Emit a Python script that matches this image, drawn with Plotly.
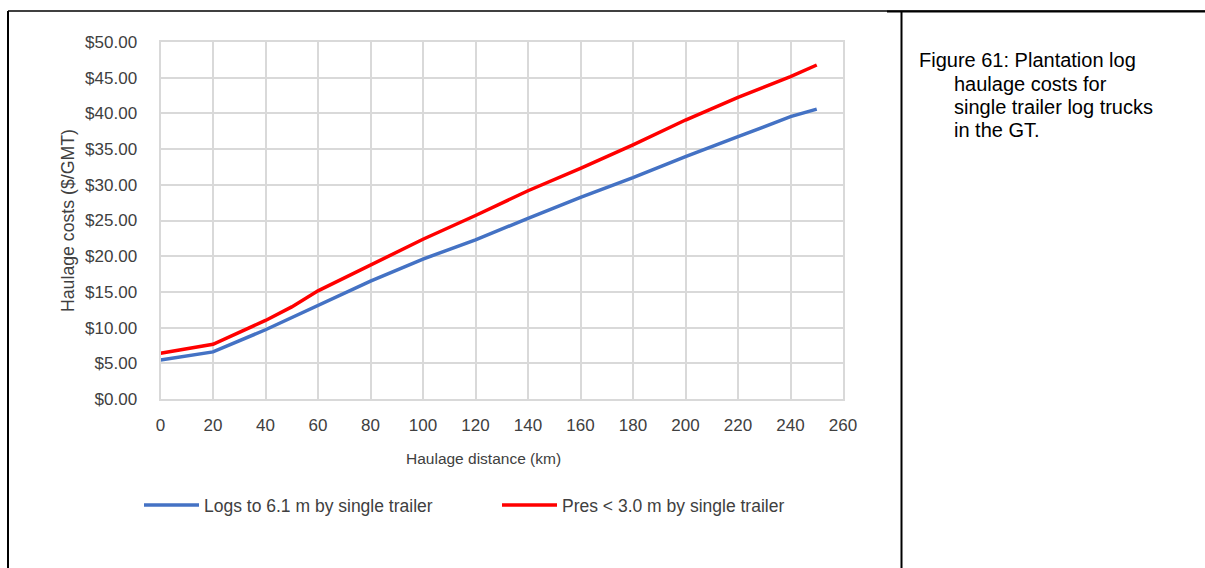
import plotly.graph_objects as go

W, H = 1205, 568

distance_km = [0, 20, 40, 50, 60, 80, 100, 120, 140, 160, 180, 200, 220, 240, 250]
logs_single = [5.45, 6.6, 9.7, 11.4, 13.05, 16.5, 19.6, 22.3, 25.3, 28.25, 31.0, 33.94, 36.74, 39.54, 40.6]
pres_single = [6.4, 7.66, 11.0, 12.9, 15.15, 18.77, 22.37, 25.7, 29.17, 32.3, 35.6, 39.07, 42.25, 45.14, 46.78]

x_ticks = list(range(0, 261, 20))
y_ticks = [0, 5, 10, 15, 20, 25, 30, 35, 40, 45, 50]
y_tick_text = ["$%.2f" % v for v in y_ticks]

series_names = ["Logs to 6.1 m by single trailer", "Pres < 3.0 m by single trailer"]
series_colors = ["#4472C4", "#FF0000"]

x_title = "Haulage distance (km)"
y_title = "Haulage costs ($/GMT)"
caption_lines = ["Figure 61: Plantation log", "haulage costs for", "single trailer log trucks", "in the GT."]

FONT = "Liberation Sans, Arial, sans-serif"
TXT = "#404040"

fig = go.Figure()
for name, ys, col in zip(series_names, [logs_single, pres_single], series_colors):
    fig.add_trace(go.Scatter(x=distance_km, y=ys, mode="lines", name=name,
                             line=dict(color=col, width=3.5)))

x0, x1 = 160.5, 843.0
y0, y1 = 399.0, 42.0
fig.update_layout(
    width=W, height=H,
    margin=dict(l=0, r=0, t=0, b=0, autoexpand=False),
    paper_bgcolor="white", plot_bgcolor="white",
    font=dict(family=FONT, size=17, color=TXT),
    showlegend=True,
    legend=dict(orientation="h", x=139 / W, y=1 - 505 / H, xanchor="left", yanchor="middle",
                bgcolor="rgba(0,0,0,0)",
                font=dict(family=FONT, size=17.5, color=TXT), itemwidth=55, tracegroupgap=0,
                entrywidth=288, entrywidthmode="pixels"),
    xaxis=dict(domain=[x0 / W, x1 / W], range=[0, 260], tickvals=x_ticks, automargin=False,
               showgrid=True, gridcolor="#D9D9D9", gridwidth=2,
               showline=True, linecolor="#D9D9D9", linewidth=2, mirror=True,
               ticks="", ticklabelstandoff=10, zeroline=False, tickfont=dict(size=17, color=TXT)),
    yaxis=dict(domain=[1 - y0 / H, 1 - y1 / H], range=[0, 50], tickvals=y_ticks, ticktext=y_tick_text,
               automargin=False,
               showgrid=True, gridcolor="#D9D9D9", gridwidth=2,
               showline=True, linecolor="#D9D9D9", linewidth=2, mirror=True,
               ticks="", ticklabelstandoff=18, zeroline=False, tickfont=dict(size=17, color=TXT)),
)

# axis titles
fig.add_annotation(text=x_title, xref="paper", yref="paper", x=483 / W, y=1 - 458 / H,
                   xanchor="center", yanchor="middle", showarrow=False,
                   font=dict(family=FONT, size=15.5, color=TXT))
fig.add_annotation(text=y_title, xref="paper", yref="paper", x=68 / W, y=1 - 221 / H,
                   xanchor="center", yanchor="middle", showarrow=False, textangle=-90,
                   font=dict(family=FONT, size=17.7, color=TXT))

# table borders
fig.add_shape(type="line", xref="paper", yref="paper", x0=8 / W, x1=1, y0=1 - 11 / H, y1=1 - 11 / H,
              line=dict(color="black", width=1.5))
fig.add_shape(type="line", xref="paper", yref="paper", x0=887 / W, x1=1, y0=1 - 11.5 / H, y1=1 - 11.5 / H,
              line=dict(color="black", width=2.2))
fig.add_shape(type="line", xref="paper", yref="paper", x0=8 / W, x1=8 / W, y0=1 - 11 / H, y1=0,
              line=dict(color="black", width=2))
fig.add_shape(type="line", xref="paper", yref="paper", x0=901.5 / W, x1=901.5 / W, y0=1 - 11 / H, y1=0,
              line=dict(color="black", width=2))

# caption
ys_cap = [60, 84, 107, 130]
xs_cap = [917, 952, 952, 952]
for t, xx, yy in zip(caption_lines, xs_cap, ys_cap):
    fig.add_annotation(text=t, xref="paper", yref="paper", x=xx / W, y=1 - yy / H,
                       xanchor="left", yanchor="middle", showarrow=False,
                       font=dict(family=FONT, size=20, color="black"))

fig.write_html("out.html", config={"displayModeBar": False},
               post_script="document.body.style.margin='0';document.body.style.overflow='hidden';")
